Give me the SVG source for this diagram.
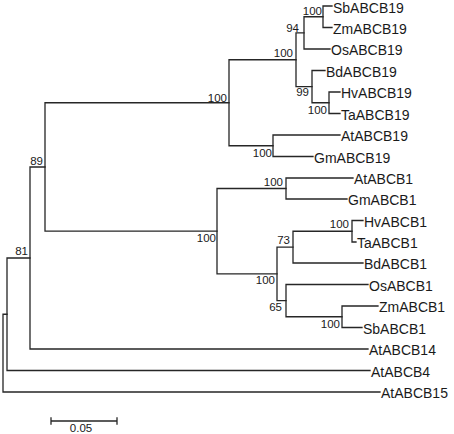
<svg xmlns="http://www.w3.org/2000/svg" width="454" height="434" viewBox="0 0 454 434">
<style>
.br{fill:none;stroke:#262626;stroke-width:1.3;stroke-linecap:square}
.leaf{font-family:"Liberation Sans",Arial,sans-serif;font-size:14px;fill:#1a1a1a}
.bs{font-family:"Liberation Sans",Arial,sans-serif;font-size:11.5px;fill:#1a1a1a;text-anchor:end}
</style>
<rect width="454" height="434" fill="#fff"/>
<g id="connectors">
<path class="br" d="M332 6H323V27.5H332"/>
<path class="br" d="M323 16.75H304V49H330"/>
<path class="br" d="M340 92H329V113.5H340"/>
<path class="br" d="M325 70.5H312V102.75H329"/>
<path class="br" d="M304 32.9H296V86.6H312"/>
<path class="br" d="M340 135H273V156.5H313"/>
<path class="br" d="M296 59.75H229V145.75H273"/>
<path class="br" d="M353 178H286V199H347"/>
<path class="br" d="M363 220.5H352V242H356"/>
<path class="br" d="M352 231.25H293V263H363"/>
<path class="br" d="M378 306H342V327.5H362"/>
<path class="br" d="M368 284.5H286V316.75H342"/>
<path class="br" d="M293 247.1H277V300.6H286"/>
<path class="br" d="M286 188.5H217V273.9H277"/>
<path class="br" d="M229 102.75H45V231.2H217"/>
<path class="br" d="M45 167H30V349H368"/>
<path class="br" d="M30 258H7V370.5H370"/>
<path class="br" d="M7 314.25H3V392H380"/>
</g>
<g id="leaves">
<g id="SbABCB19"><text class="leaf" x="333" y="12.8">SbABCB19</text></g>
<g id="ZmABCB19"><text class="leaf" x="333" y="33.5">ZmABCB19</text></g>
<g id="OsABCB19"><text class="leaf" x="331" y="55">OsABCB19</text></g>
<g id="BdABCB19"><text class="leaf" x="326" y="76.5">BdABCB19</text></g>
<g id="HvABCB19"><text class="leaf" x="341" y="98">HvABCB19</text></g>
<g id="TaABCB19"><text class="leaf" x="341" y="119.5">TaABCB19</text></g>
<g id="AtABCB19"><text class="leaf" x="341" y="141">AtABCB19</text></g>
<g id="GmABCB19"><text class="leaf" x="314" y="162.5">GmABCB19</text></g>
<g id="AtABCB1"><text class="leaf" x="354" y="184">AtABCB1</text></g>
<g id="GmABCB1"><text class="leaf" x="348" y="205">GmABCB1</text></g>
<g id="HvABCB1"><text class="leaf" x="364" y="226.5">HvABCB1</text></g>
<g id="TaABCB1"><text class="leaf" x="357" y="248">TaABCB1</text></g>
<g id="BdABCB1"><text class="leaf" x="364" y="269">BdABCB1</text></g>
<g id="OsABCB1"><text class="leaf" x="369" y="290.5">OsABCB1</text></g>
<g id="ZmABCB1"><text class="leaf" x="379" y="312">ZmABCB1</text></g>
<g id="SbABCB1"><text class="leaf" x="363" y="333.5">SbABCB1</text></g>
<g id="AtABCB14"><text class="leaf" x="369" y="355">AtABCB14</text></g>
<g id="AtABCB4"><text class="leaf" x="371" y="376.5">AtABCB4</text></g>
<g id="AtABCB15"><text class="leaf" x="381" y="398">AtABCB15</text></g>
</g>
<g id="bootstrap">
<text class="bs" x="322" y="15">100</text>
<text class="bs" x="299" y="32">94</text>
<text class="bs" x="293" y="57">100</text>
<text class="bs" x="309" y="96">99</text>
<text class="bs" x="327" y="114">100</text>
<text class="bs" x="227" y="102">100</text>
<text class="bs" x="272" y="157">100</text>
<text class="bs" x="43" y="165">89</text>
<text class="bs" x="283" y="186">100</text>
<text class="bs" x="216" y="242">100</text>
<text class="bs" x="349" y="228">100</text>
<text class="bs" x="290" y="244">73</text>
<text class="bs" x="275" y="284">100</text>
<text class="bs" x="282" y="311">65</text>
<text class="bs" x="340" y="328">100</text>
<text class="bs" x="28" y="255">81</text>
</g>
<g id="scalebar">
<path class="br" d="M51 421H117M51 418V424M117 418V424"/>
<text class="bs" x="81" y="432" style="text-anchor:middle">0.05</text>
</g>
</svg>
